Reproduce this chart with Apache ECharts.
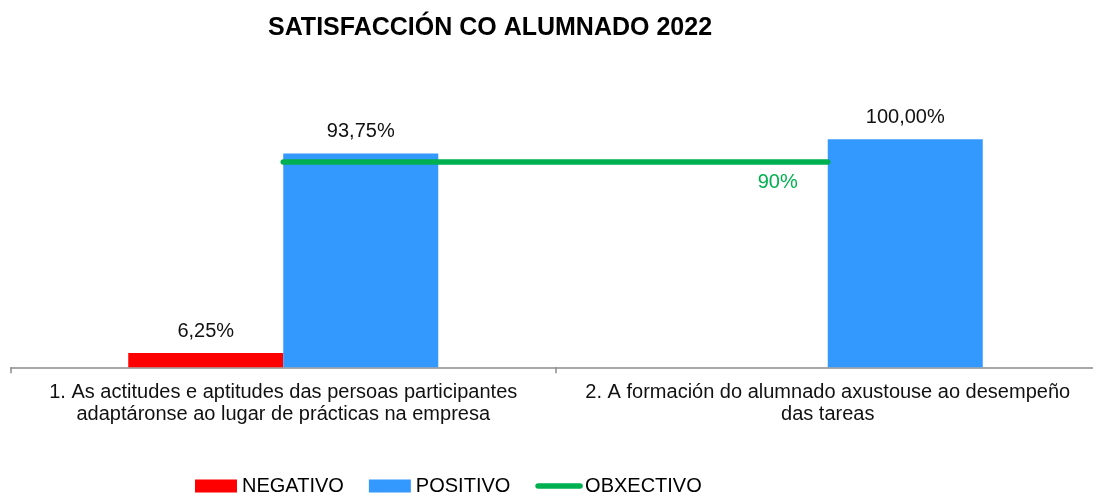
<!DOCTYPE html>
<html>
<head>
<meta charset="utf-8">
<script src="https://cdn.jsdelivr.net/npm/echarts@6/dist/echarts.min.js"></script>
<style>
	html, body { margin: 0; padding: 0; background: #fff; }
	#chart { width: 1093px; height: 496px; }
</style>
</head>
<body>
<div id="chart"></div>
<script>
	var categories = [
		'1. As actitudes e aptitudes das persoas participantes\nadaptáronse ao lugar de prácticas na empresa',
		'2. A formación do alumnado axustouse ao desempeño\ndas tareas'
	];
	var negativo = [6.25, 0];
	var positivo = [93.75, 100];
	var obxectivo = [90, 90];

	var font = '"Liberation Sans", Arial, sans-serif';

	function pct(p) {
		if (!p.value) return '';
		return p.value.toFixed(2).replace('.', ',') + '%';
	}

	var barLabel = {
		show: true,
		position: 'top',
		distance: 12,
		color: '#111',
		fontSize: 20,
		fontFamily: font,
		formatter: pct
	};

	var option = {
		animation: false,
		title: {
			text: 'SATISFACCIÓN CO ALUMNADO 2022',
			left: 263,
			top: 11,
			textStyle: {
				fontSize: 25,
				fontWeight: 'bold',
				color: '#000',
				fontFamily: font
			}
		},
		legend: {
			left: 190,
			top: 471,
			itemWidth: 42,
			itemHeight: 13,
			itemGap: 25,
			textStyle: { fontSize: 20, color: '#000', fontFamily: font },
			data: [
				{ name: 'NEGATIVO', icon: 'rect' },
				{ name: 'POSITIVO', icon: 'rect' },
				{
					name: 'OBXECTIVO',
					itemStyle: { opacity: 0 },
					lineStyle: { width: 5.5, cap: 'round', color: '#00b050' }
				}
			]
		},
		grid: {
			left: 11,
			width: 1089,
			top: 93.7,
			height: 273.6,
			outerBoundsMode: 'none',
			containLabel: false
		},
		xAxis: {
			type: 'category',
			data: categories,
			axisLine: { lineStyle: { color: '#8c8c8c', width: 1.5 } },
			axisTick: { show: true, length: 6, lineStyle: { color: '#8c8c8c', width: 1.5 } },
			axisLabel: {
				interval: 0,
				margin: 14,
				fontSize: 20,
				lineHeight: 22,
				color: '#111',
				fontFamily: font
			}
		},
		yAxis: {
			type: 'value',
			min: 0,
			max: 120,
			show: false,
			splitLine: { show: false }
		},
		series: [{
			name: 'NEGATIVO',
			type: 'bar',
			barWidth: 155,
			barGap: 0,
			itemStyle: { color: '#ff0000' },
			label: barLabel,
			data: negativo
		}, {
			name: 'POSITIVO',
			type: 'bar',
			barWidth: 155,
			barGap: 0,
			itemStyle: { color: '#3399ff' },
			label: barLabel,
			data: positivo
		}, {
			name: 'OBXECTIVO',
			type: 'line',
			symbol: 'circle',
			symbolSize: 0.1,
			showSymbol: true,
			z: 5,
			lineStyle: { color: '#00b050', width: 5.5, cap: 'round' },
			itemStyle: { color: '#00b050' },
			data: obxectivo.map(function(v, i) {
				return {
					value: v,
					label: {
						show: i == obxectivo.length - 1,
						position: 'bottom',
						offset: [-50, 5],
						color: '#00b050',
						fontSize: 20,
						fontFamily: font,
						formatter: '{c}%'
					}
				};
			})
		}]
	};

	var myChart = echarts.init(document.getElementById('chart'));
	myChart.setOption(option);
</script>
</body>
</html>
